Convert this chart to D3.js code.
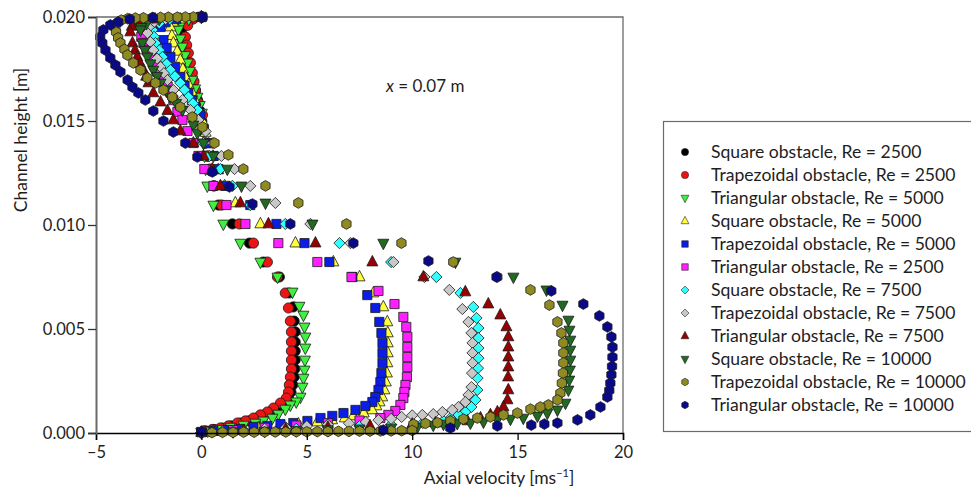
<!DOCTYPE html>
<html><head><meta charset="utf-8">
<script src="https://cdn.jsdelivr.net/npm/d3@7"></script>
<style>
body{margin:0;background:#fff}
svg{display:block}
text{font-family:Lato,"Open Sans",sans-serif;fill:#1e1e1e}
</style>
</head><body>
<svg id="chart" width="971" height="490"></svg>
<script>
// ---------- data (velocity u in m/s, height h in mm) ----------
const xTicks = [-5, 0, 5, 10, 15, 20];
const yTicks = [0, 5, 10, 15, 20];
const seriesNames = [
  "Square obstacle, Re = 2500", "Trapezoidal obstacle, Re = 2500", "Triangular obstacle, Re = 5000",
  "Square obstacle, Re = 5000", "Trapezoidal obstacle, Re = 5000", "Triangular obstacle, Re = 2500",
  "Square obstacle, Re = 7500", "Trapezoidal obstacle, Re = 7500", "Triangular obstacle, Re = 7500",
  "Square obstacle, Re = 10000", "Trapezoidal obstacle, Re = 10000", "Triangular obstacle, Re = 10000"
];
const seriesColors = ["#000000", "#ee1414", "#3ff03f", "#ffff40", "#0a1ee6", "#ff20ff",
  "#30ffff", "#c8c8c8", "#960000", "#226a22", "#8f8a22", "#0a0a88"];
const seriesSymbols = ["circle", "circle", "triDown", "triUp", "square", "square",
  "diamond", "diamond", "triUp", "triDown", "hex", "hex"];

const squareRe2500 = [[0,20.0],[-0.5,19.92],[-0.8,19.7],[-0.95,19.35],[-0.95,19.0],[-0.85,18.6],[-0.72,18.2],[-0.6,17.8],[-0.5,17.35],[-0.38,16.9],[-0.28,16.45],[-0.18,16.0],[-0.08,15.5],[0.02,15.0],[0.1,14.5],[0.2,13.95],[0.3,13.3],[0.45,12.6],[0.6,11.88],[0.81,10.96],[1.47,10.05],[2.28,9.13],[2.94,8.22],[3.7,7.5],[4.17,6.73],[4.36,6.06],[4.4,5.38],[4.45,4.86],[4.45,4.38],[4.45,3.94],[4.45,3.51],[4.43,3.08],[4.4,2.69],[4.33,2.31],[4.25,1.97],[4.12,1.68],[3.9,1.44],[3.6,1.2],[3.3,1.01],[3.0,0.87],[2.65,0.72],[2.25,0.58],[1.85,0.48],[1.4,0.34],[1.0,0.24],[0.6,0.17],[0.2,0.1],[0,0.03]];
const trapRe2500 = [[0,20.0],[-0.4,19.9],[-0.65,19.6],[-0.76,19.04],[-0.7,18.65],[-0.62,18.27],[-0.52,17.8],[-0.43,17.31],[-0.35,16.9],[-0.28,16.49],[-0.14,15.87],[0.05,15.29],[0.12,14.52],[0.18,13.94],[0.28,13.32],[0.4,12.69],[0.58,11.88],[0.95,10.96],[1.8,10.05],[2.47,9.13],[3.13,8.22],[3.61,7.5],[3.98,6.73],[4.13,6.01],[4.22,5.38],[4.27,4.86],[4.27,4.38],[4.27,3.94],[4.27,3.51],[4.27,3.08],[4.22,2.69],[4.17,2.31],[4.13,1.97],[4.03,1.68],[3.75,1.44],[3.42,1.2],[3.13,1.01],[2.8,0.87],[2.47,0.72],[2.09,0.58],[1.71,0.48],[1.28,0.34],[0.9,0.24],[0.52,0.17],[0.1,0.1]];
const triRe5000 = [[0,20.0],[-0.6,19.9],[-0.95,19.7],[-1.09,19.38],[-1.0,18.95],[-0.9,18.56],[-0.78,18.15],[-0.66,17.79],[-0.55,17.4],[-0.43,16.97],[-0.3,16.55],[-0.19,16.15],[-0.08,15.75],[0.02,15.38],[0.06,14.52],[0.1,13.94],[0.15,13.32],[0.2,12.69],[0.28,11.88],[0.57,10.96],[1.04,10.05],[1.85,9.13],[2.8,8.22],[3.61,7.5],[4.32,6.78],[4.65,6.1],[4.84,5.67],[4.89,5.1],[4.93,4.62],[4.93,4.09],[4.91,3.51],[4.89,3.03],[4.84,2.64],[4.79,2.21],[4.7,1.73],[4.5,1.5],[4.22,1.35],[3.98,1.15],[3.65,0.91],[3.37,0.72],[2.94,0.58],[2.56,0.48],[2.0,0.38],[1.4,0.28],[0.8,0.18],[0.3,0.1],[0,0.04]];
const squareRe5000 = [[0,20.0],[-1.0,19.9],[-1.35,19.75],[-1.47,19.52],[-1.4,19.1],[-1.33,18.75],[-1.15,18.35],[-1.0,17.93],[-0.88,17.5],[-0.76,17.12],[-0.6,16.75],[-0.43,16.35],[-0.28,15.95],[-0.14,15.6],[0.05,15.0],[0.2,14.45],[0.35,13.9],[0.55,13.3],[0.8,12.65],[1.1,11.88],[1.61,11.06],[2.8,10.05],[4.46,9.13],[6.26,8.22],[7.5,7.5],[8.16,6.73],[8.63,6.06],[8.82,5.34],[8.84,4.81],[8.84,4.33],[8.84,3.85],[8.82,3.37],[8.8,2.88],[8.75,2.45],[8.68,2.07],[8.58,1.73],[8.45,1.49],[8.3,1.3],[8.1,1.11],[7.7,0.96],[7.2,0.82],[6.8,0.72],[6.2,0.63],[5.5,0.53],[4.6,0.43],[3.7,0.34],[2.7,0.24],[1.6,0.15],[0.6,0.07],[0,0.03]];
const trapRe5000 = [[0,20.0],[-1.2,19.9],[-1.7,19.75],[-1.94,19.52],[-1.8,18.89],[-1.65,18.5],[-1.47,18.08],[-1.25,17.6],[-1.0,17.12],[-0.8,16.7],[-0.62,16.35],[-0.45,16.0],[-0.28,15.67],[-0.05,15.29],[0.12,14.6],[0.33,13.94],[0.57,13.32],[0.8,12.69],[1.14,11.88],[2.32,10.96],[3.56,10.05],[4.89,9.13],[6.07,8.22],[7.16,7.5],[7.87,6.63],[8.25,6.01],[8.44,5.34],[8.54,4.81],[8.59,4.33],[8.59,3.85],[8.59,3.37],[8.54,2.88],[8.49,2.45],[8.4,2.07],[8.25,1.73],[8.11,1.49],[7.78,1.3],[7.31,1.11],[6.74,0.96],[6.21,0.82],[5.65,0.72],[5.03,0.58],[4.36,0.48],[3.75,0.43],[3.13,0.34],[2.47,0.29],[1.85,0.19],[1.23,0.14],[0.57,0.1],[0,0.05]];
const triRe2500 = [[0,20.0],[-1.8,19.9],[-2.5,19.7],[-2.8,19.4],[-2.85,19.05],[-2.75,18.75],[-2.6,18.4],[-2.4,18.05],[-2.2,17.7],[-2.0,17.35],[-1.8,17.0],[-1.6,16.65],[-1.45,16.35],[-1.33,16.0],[-1.14,15.43],[-0.9,15.05],[-0.66,14.52],[-0.38,13.94],[-0.14,13.32],[0.14,12.69],[0.57,11.88],[1.19,10.96],[2.09,10.05],[3.65,9.13],[5.5,8.22],[7.12,7.5],[8.4,6.83],[9.16,6.2],[9.58,5.58],[9.72,5.1],[9.77,4.62],[9.77,4.13],[9.77,3.65],[9.77,3.17],[9.75,2.69],[9.68,2.31],[9.63,1.97],[9.58,1.68],[9.44,1.35],[9.2,1.06],[8.87,0.87],[8.49,0.72],[7.5,0.6],[6.0,0.48],[4.5,0.36],[3.0,0.25],[1.5,0.14],[0,0.04]];
const squareRe7500 = [[0,20.0],[-1.5,19.9],[-2.0,19.7],[-2.32,19.38],[-2.25,19.05],[-2.18,18.75],[-2.0,18.4],[-1.85,18.08],[-1.65,17.75],[-1.47,17.45],[-1.25,17.15],[-1.0,16.83],[-0.8,16.5],[-0.62,16.15],[-0.4,15.85],[-0.19,15.53],[0.0,14.7],[0.1,13.94],[0.38,13.32],[0.9,12.69],[1.47,11.88],[2.32,10.96],[3.98,10.05],[6.55,9.13],[9.0,8.22],[11.15,7.5],[12.29,6.73],[12.9,6.06],[13.05,5.53],[13.14,5.05],[13.14,4.57],[13.14,4.09],[13.14,3.6],[13.12,3.12],[13.1,2.64],[13.09,2.07],[13.0,1.59],[12.81,1.25],[12.52,1.01],[12.19,0.87],[11.81,0.72],[11.48,0.58],[10.5,0.48],[9.0,0.4],[7.5,0.33],[6.0,0.27],[4.5,0.2],[3.0,0.14],[1.5,0.08],[0,0.03]];
const trapRe7500 = [[0,20.0],[-1.7,19.9],[-2.3,19.7],[-2.5,19.5],[-2.56,19.23],[-2.42,18.8],[-2.28,18.41],[-2.1,18.0],[-1.94,17.6],[-1.78,17.3],[-1.61,16.97],[-1.33,16.49],[-0.9,16.01],[-0.52,15.53],[-0.14,15.05],[0.2,14.5],[0.55,13.94],[0.95,13.32],[1.57,12.69],[2.32,11.88],[3.51,11.06],[5.17,10.05],[7.07,9.13],[9.11,8.22],[10.58,7.5],[11.76,6.88],[12.38,5.96],[12.67,5.34],[12.81,4.81],[12.86,4.33],[12.86,3.85],[12.86,3.37],[12.84,2.88],[12.81,2.21],[12.67,1.83],[12.52,1.49],[12.19,1.25],[11.9,1.11],[11.43,1.01],[11.0,0.91],[10.48,0.87],[10.0,0.85],[9.5,0.77],[9.0,0.68],[8.4,0.62],[7.8,0.53],[7.0,0.47],[6.0,0.4],[5.0,0.33],[4.0,0.27],[3.0,0.2],[2.0,0.14],[1.0,0.08],[0,0.03]];
const triRe7500 = [[0,20.0],[-2.2,19.9],[-3.0,19.75],[-3.3,19.55],[-3.37,19.28],[-3.27,18.75],[-3.15,18.4],[-3.04,18.08],[-2.9,17.75],[-2.75,17.45],[-2.62,17.15],[-2.51,16.83],[-2.28,16.35],[-1.94,15.91],[-1.61,15.5],[-1.33,15.05],[-1.0,14.52],[-0.38,13.94],[0.1,13.32],[0.52,12.69],[0.9,11.88],[1.85,11.06],[3.18,10.05],[5.41,9.13],[8.11,8.22],[10.53,7.5],[12.52,6.78],[13.61,6.2],[14.18,5.67],[14.47,5.1],[14.56,4.62],[14.56,4.13],[14.56,3.65],[14.56,3.17],[14.55,2.69],[14.56,2.07],[14.52,1.59],[14.33,1.25],[14.04,1.01],[13.71,0.87],[13.24,0.72],[12.62,0.58],[11.81,0.53],[11.1,0.48],[10.0,0.42],[8.0,0.34],[6.0,0.27],[4.0,0.19],[2.0,0.11],[0,0.03]];
const squareRe10000 = [[0,20.0],[-2.0,19.9],[-2.6,19.7],[-2.85,19.5],[-2.89,19.38],[-2.8,18.75],[-2.68,18.4],[-2.56,18.08],[-2.42,17.75],[-2.28,17.45],[-2.1,17.15],[-1.94,16.83],[-1.7,16.5],[-1.47,16.15],[-1.2,15.85],[-0.9,15.53],[-0.38,14.81],[-0.19,14.42],[0.1,13.94],[0.57,13.32],[1.23,12.69],[1.9,11.88],[3.04,11.06],[5.27,10.05],[8.63,9.13],[12.05,8.22],[14.8,7.5],[16.37,6.88],[17.13,6.15],[17.41,5.43],[17.46,4.95],[17.5,4.47],[17.5,3.99],[17.5,3.51],[17.48,3.03],[17.45,2.55],[17.41,2.07],[17.27,1.44],[16.89,1.11],[16.41,0.96],[15.94,0.82],[15.27,0.72],[14.66,0.67],[14.04,0.63],[13.38,0.53],[12.76,0.48],[12.14,0.46],[11.48,0.43],[11.0,0.38],[10.25,0.29],[9.0,0.24],[7.5,0.2],[6.0,0.16],[4.5,0.12],[3.0,0.09],[1.5,0.06],[0,0.02]];
const trapRe10000 = [[0.05,20.0],[-0.38,20.0],[-0.76,20.0],[-1.14,19.99],[-1.57,19.99],[-1.94,19.98],[-2.32,19.97],[-2.75,19.96],[-3.13,19.95],[-3.5,19.92],[-3.8,19.85],[-4.0,19.7],[-4.08,19.5],[-4.05,19.28],[-3.95,19.0],[-3.84,18.75],[-3.65,18.45],[-3.51,18.17],[-3.23,17.79],[-2.89,17.45],[-2.56,17.07],[-2.18,16.83],[-1.8,16.49],[-1.38,16.15],[-1.0,15.67],[-0.43,15.19],[0.05,14.71],[0.62,13.94],[1.28,13.37],[1.99,12.69],[3.04,11.88],[4.6,11.06],[6.88,10.05],[9.49,9.13],[11.95,8.22],[14.04,7.5],[15.61,6.88],[16.51,6.15],[16.89,5.34],[17.08,4.81],[17.17,4.33],[17.17,3.85],[17.17,3.37],[17.15,2.88],[17.1,2.4],[17.03,1.92],[16.89,1.59],[16.46,1.35],[16.08,1.25],[15.61,1.15],[14.99,0.96],[14.33,0.87],[13.71,0.77],[13.09,0.72],[12.43,0.67],[11.81,0.58],[11.2,0.5],[10.63,0.46],[10.06,0.42],[10.0,0.12],[9.5,0.11],[9.0,0.1],[8.5,0.1],[8.0,0.09],[7.5,0.09],[7.0,0.08],[6.5,0.08],[6.0,0.07],[5.5,0.07],[5.0,0.06],[4.5,0.06],[4.0,0.05],[3.5,0.05],[3.0,0.05],[2.5,0.04],[2.0,0.04],[1.5,0.03],[1.0,0.03],[0.5,0.02],[0,0.02]];
const triRe10000 = [[0.05,20.0],[-2.3,19.97],[-3.4,19.9],[-3.94,19.76],[-4.32,19.62],[-4.65,19.38],[-4.8,19.04],[-4.7,18.75],[-4.55,18.41],[-4.32,18.03],[-4.08,17.69],[-3.84,17.36],[-3.5,16.97],[-3.27,16.63],[-2.99,16.35],[-2.66,16.01],[-2.28,15.48],[-1.8,15.0],[-1.33,14.47],[-0.76,13.94],[-0.19,13.27],[0.52,12.55],[1.33,11.83],[2.42,11.01],[4.22,10.05],[7.21,9.13],[10.77,8.27],[14.0,7.5],[16.6,6.83],[18.12,6.2],[18.88,5.63],[19.26,5.1],[19.45,4.62],[19.5,4.13],[19.5,3.65],[19.48,3.2],[19.45,2.8],[19.4,2.4],[19.35,2.05],[19.26,1.73],[18.93,1.25],[18.45,0.87],[17.84,0.63],[16.89,0.48],[16.27,0.43],[15.65,0.38],[14.04,0.34],[11.81,0.24],[8.63,0.14],[0,0.05]];

const seriesData = [squareRe2500, trapRe2500, triRe5000, squareRe5000, trapRe5000, triRe2500,
  squareRe7500, trapRe7500, triRe7500, squareRe10000, trapRe10000, triRe10000];

// ---------- symbols ----------
const symbolTypes = {
  circle: {draw(c, s){ const r = Math.sqrt(s)/2; c.moveTo(r,0); c.arc(0,0,r,0,2*Math.PI); }},
  hex: {draw(c, s){ const r = Math.sqrt(s)/2*1.05; for(let k=0;k<6;k++){ const a = Math.PI/2 + k*Math.PI/3; const px = r*Math.cos(a), py = r*Math.sin(a); k ? c.lineTo(px,py) : c.moveTo(px,py);} c.closePath(); }},
  square: {draw(c, s){ const h = Math.sqrt(s)/2*0.9; c.rect(-h,-h,2*h,2*h); }},
  diamond: {draw(c, s){ const r = Math.sqrt(s)/2*1.1; c.moveTo(0,-r); c.lineTo(r,0); c.lineTo(0,r); c.lineTo(-r,0); c.closePath(); }},
  triUp: {draw(c, s){ const a = Math.sqrt(s)*1.08; c.moveTo(0,-a*0.6); c.lineTo(a/2,a*0.35); c.lineTo(-a/2,a*0.35); c.closePath(); }},
  triDown: {draw(c, s){ const a = Math.sqrt(s)*1.08; c.moveTo(0,a*0.6); c.lineTo(a/2,-a*0.35); c.lineTo(-a/2,-a*0.35); c.closePath(); }}
};

// ---------- layout ----------
const svg = d3.select("#chart");
const x = d3.scaleLinear().domain([-5, 20]).range([96, 623]);
const y = d3.scaleLinear().domain([0, 20]).range([433, 17]);

// frame (top & right)
svg.append("path")
  .attr("d", `M${x(-5)},${y(20)}H${x(20)}V${y(0)}`)
  .attr("fill", "none").attr("stroke", "#6b6b6b").attr("stroke-width", 1.3);

// markers
const sym = d3.symbol();
seriesData.forEach((data, i) => {
  svg.append("g").selectAll("path").data(data).join("path")
    .attr("transform", d => `translate(${x(d[0])},${y(d[1])})`)
    .attr("d", sym.type(symbolTypes[seriesSymbols[i]]).size(104)())
    .attr("fill", seriesColors[i])
    .attr("stroke", "#1a1a1a").attr("stroke-width", 0.8);
});

// axes
const fmtX = d => d < 0 ? "\u2013" + Math.abs(d) : String(d);
const xAxis = svg.append("g").attr("transform", `translate(0,${y(0)})`)
  .call(d3.axisBottom(x).tickValues(xTicks).tickFormat(fmtX).tickSizeOuter(0).tickSize(7).tickPadding(6));
xAxis.select(".domain").attr("stroke", "#000").attr("stroke-width", 1.5);
xAxis.selectAll(".tick line").attr("stroke", "#000").attr("stroke-width", 1.3);
xAxis.selectAll("text").attr("font-size", 16.5).attr("font-family", "Lato").attr("fill", "#1e1e1e");

const yAxis = svg.append("g").attr("transform", `translate(${x(-5)},0)`)
  .call(d3.axisLeft(y).tickValues(yTicks).tickFormat(d => (d/1000).toFixed(3)).tickSizeOuter(0).tickSize(8).tickPadding(3));
yAxis.select(".domain").attr("stroke", "#6b6b6b").attr("stroke-width", 2);
yAxis.selectAll(".tick line").attr("stroke", "#333").attr("stroke-width", 1.3);
yAxis.selectAll("text").attr("font-size", 16.5).attr("font-family", "Lato").attr("fill", "#1e1e1e");

// axis titles
const xt = svg.append("text").attr("x", 499).attr("y", 484).attr("text-anchor", "middle").attr("font-size", 17.5);
xt.append("tspan").text("Axial velocity [ms");
xt.append("tspan").text("\u22121").attr("font-size", 11).attr("dy", -7);
xt.append("tspan").text("]").attr("dy", 7);

svg.append("text").attr("transform", "translate(27,140) rotate(-90)")
  .attr("text-anchor", "middle").attr("font-size", 17.5).text("Channel height [m]");

// annotation
const an = svg.append("text").attr("x", 386).attr("y", 92).attr("font-size", 17);
an.append("tspan").text("x").attr("font-style", "italic");
an.append("tspan").text(" = 0.07 m");

// legend
const lg = svg.append("g");
lg.append("rect").attr("x", 663.5).attr("y", 121.5).attr("width", 330).attr("height", 310)
  .attr("fill", "#fff").attr("stroke", "#6b6b6b").attr("stroke-width", 1.2);
seriesNames.forEach((name, i) => {
  const cy = 152 + i * 23;
  lg.append("path").attr("transform", `translate(685,${cy})`)
    .attr("d", d3.symbol().type(symbolTypes[seriesSymbols[i]]).size(52)())
    .attr("fill", seriesColors[i]).attr("stroke", "#202020").attr("stroke-width", 0.6);
  lg.append("text").attr("x", 711).attr("y", cy + 6).attr("font-size", 17.6).text(name);
});
</script>
</body></html>
